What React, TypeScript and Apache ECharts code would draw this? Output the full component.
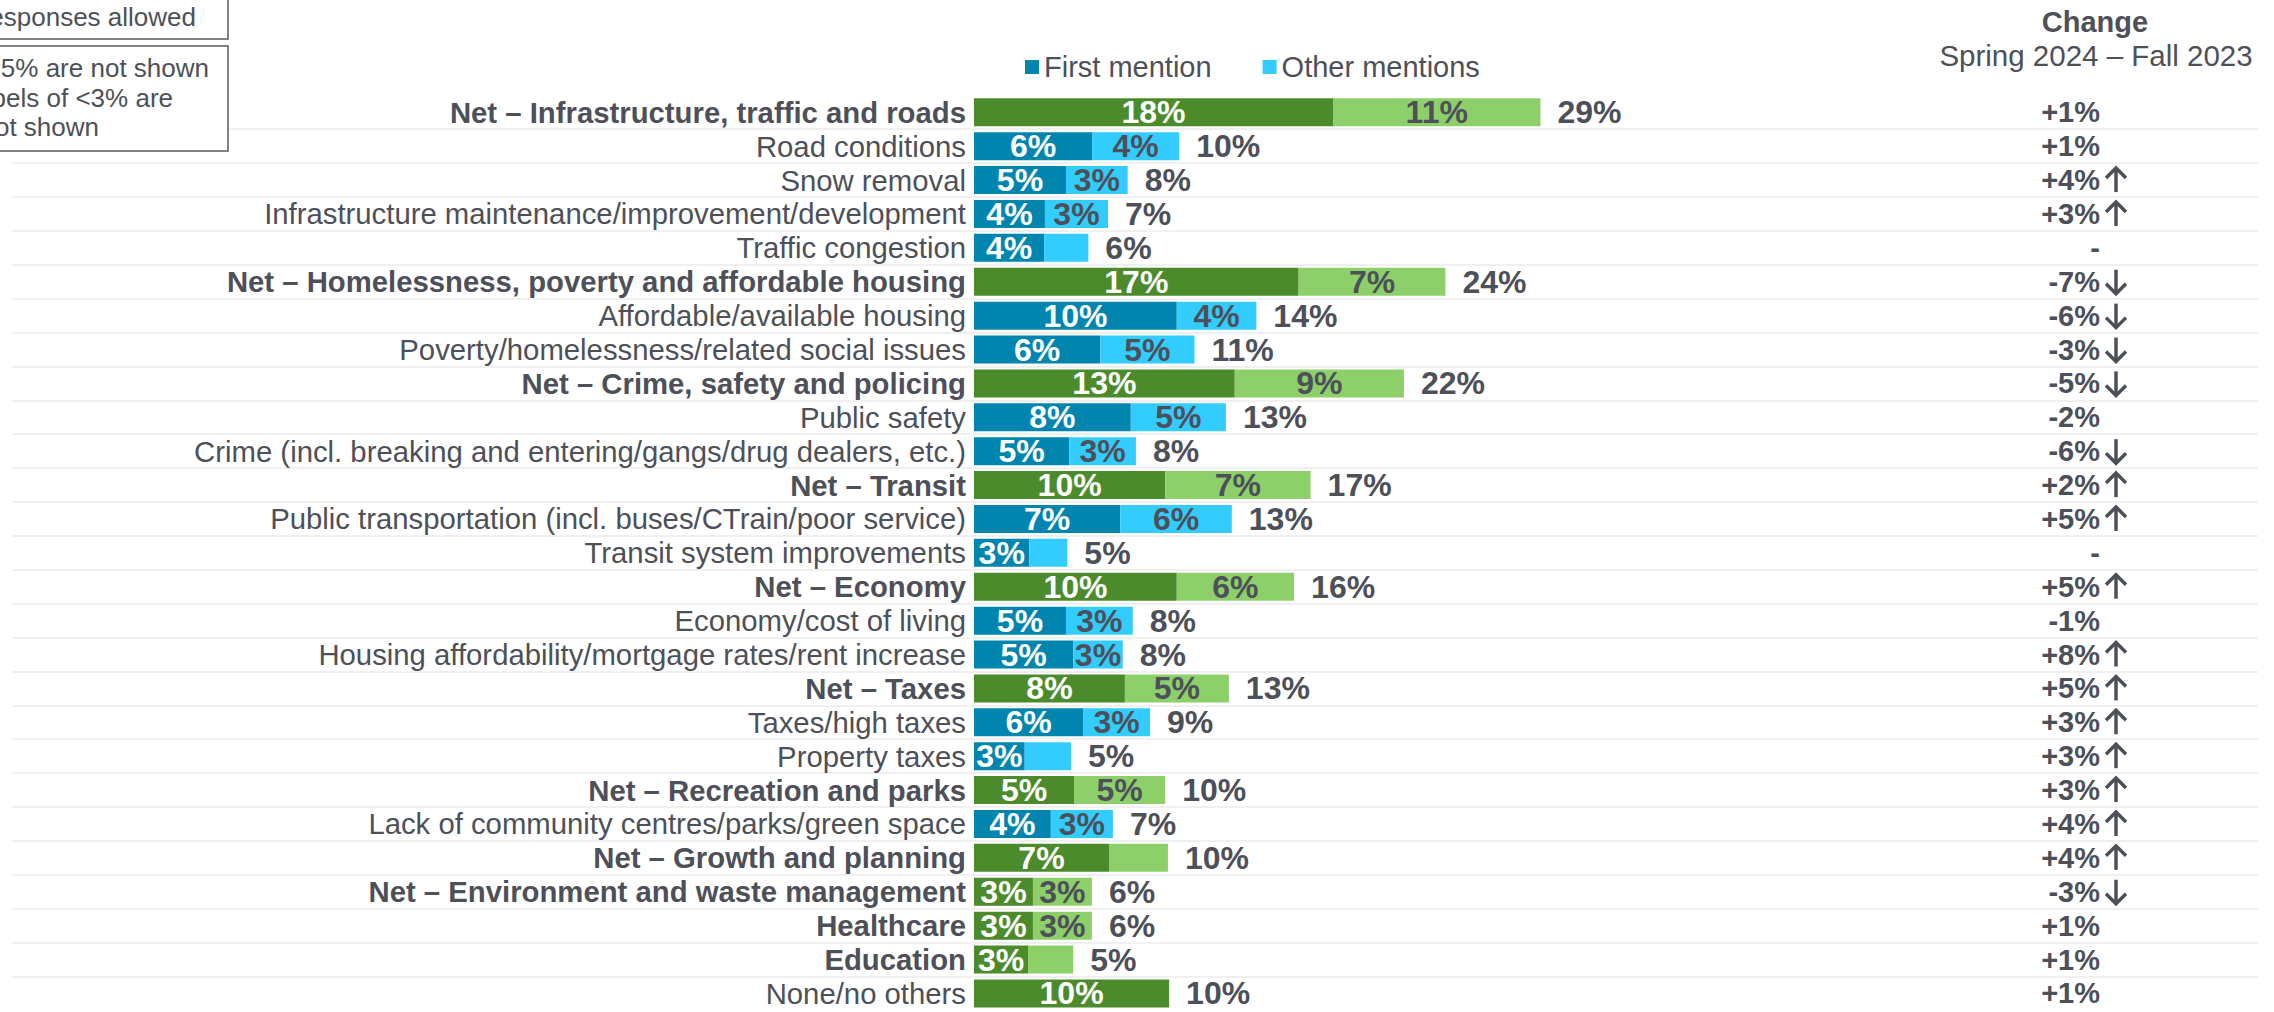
import React, { useEffect, useRef } from "react";
import * as echarts from "echarts";

// ---------- data ----------
const categories: string[] = [
  "Net – Infrastructure, traffic and roads",
  "Road conditions",
  "Snow removal",
  "Infrastructure maintenance/improvement/development",
  "Traffic congestion",
  "Net – Homelessness, poverty and affordable housing",
  "Affordable/available housing",
  "Poverty/homelessness/related social issues",
  "Net – Crime, safety and policing",
  "Public safety",
  "Crime (incl. breaking and entering/gangs/drug dealers, etc.)",
  "Net – Transit",
  "Public transportation (incl. buses/CTrain/poor service)",
  "Transit system improvements",
  "Net – Economy",
  "Economy/cost of living",
  "Housing affordability/mortgage rates/rent increase",
  "Net – Taxes",
  "Taxes/high taxes",
  "Property taxes",
  "Net – Recreation and parks",
  "Lack of community centres/parks/green space",
  "Net – Growth and planning",
  "Net – Environment and waste management",
  "Healthcare",
  "Education",
  "None/no others",
];

// net = summary row, item = mention inside a net, single = stand-alone category, none = no issue
const rowKinds: string[] = [
  "net", "item", "item", "item", "item",
  "net", "item", "item",
  "net", "item", "item",
  "net", "item", "item",
  "net", "item", "item",
  "net", "item", "item",
  "net", "item",
  "net", "net", "single", "single", "none",
];

const firstMention: number[] = [
  18.27, 6.01, 4.68, 3.61, 3.57,
  16.52, 10.32, 6.43,
  13.27, 7.98, 4.84,
  9.73, 7.44, 2.82,
  10.32, 4.68, 5.05,
  7.68, 5.55, 2.58,
  5.09, 3.91,
  6.87, 3.0, 3.0, 2.75, 9.93,
];

const otherMentions: number[] = [
  10.56, 4.43, 3.14, 3.21, 2.25,
  7.47, 4.05, 4.79,
  8.61, 4.84, 3.4,
  7.4, 5.68, 1.93,
  5.97, 3.4, 2.52,
  5.29, 3.41, 2.36,
  4.64, 3.16,
  3.0, 3.0, 3.0, 2.3, 0,
];

const unlabelledOther: string[] = ["Net – Growth and planning"];

const changes: string[] = [
  "+1%", "+1%", "+4%", "+3%", "-",
  "-7%", "-6%", "-3%",
  "-5%", "-2%", "-6%",
  "+2%", "+5%", "-",
  "+5%", "-1%", "+8%",
  "+5%", "+3%", "+3%",
  "+3%", "+4%",
  "+4%", "-3%", "+1%", "+1%", "+1%",
];

// significant change direction: 1 = up, -1 = down, 0 = none
const trends: number[] = [
  0, 0, 1, 1, 0,
  -1, -1, -1,
  -1, 0, -1,
  1, 1, 0,
  1, 0, 1,
  1, 1, 1,
  1, 1,
  1, -1, 0, 0, 0,
];

const legendNames: string[] = ["First mention", "Other mentions"];
const changeTitle = "Change";
const changeSubtitle = "Spring 2024 – Fall 2023";
const noteBox1: string[] = ["esponses allowed"];
const noteBox2: string[] = ["5% are not shown", "bels of <3% are", "ot shown"];

// ---------- styling / layout ----------
const FONT = "'Liberation Sans', Arial, Helvetica, sans-serif";
const TEXT = "#4d5059";
const DARK_BLUE = "#0086ae";
const LIGHT_BLUE = "#33ccff";
const DARK_GREEN = "#4c8b2b";
const LIGHT_GREEN = "#8dd06a";
const X0 = 974; // pixel of value 0
const PX = 19.65; // pixels per percent
const GL = 12;
const GR = 2258;
const CHANGE_RIGHT = 2100;
const ARROW_X = 2116;

export default function App() {
  const ref = useRef<HTMLDivElement>(null);

  useEffect(() => {
    if (!ref.current) return;
    const chart = echarts.init(ref.current, null, { renderer: "svg" });

    const isGreen = (i: number) => rowKinds[i] !== "item";
    const isBold = (i: number) => rowKinds[i] === "net" || rowKinds[i] === "single";
    const totals = firstMention.map((v, i) => v + otherMentions[i]);

    const valueLabel = {
      fontSize: 32,
      fontWeight: "bold",
      fontFamily: FONT,
    };

    const option: any = {
      animation: false,
      backgroundColor: "#ffffff",
      textStyle: { fontFamily: FONT },
      legend: {
        data: legendNames,
        left: 1020,
        top: 47,
        icon: "rect",
        itemWidth: 14,
        itemHeight: 14,
        itemGap: 51,
        selectedMode: false,
        textStyle: { fontSize: 29, color: TEXT, fontFamily: FONT, lineHeight: 30 },
      },
      grid: {
        left: GL,
        width: GR - GL,
        top: 95.35,
        height: 915,
        containLabel: false,
        outerBoundsMode: "none",
      },
      xAxis: {
        type: "value",
        min: -(X0 - GL) / PX,
        max: (GR - X0) / PX,
        axisLine: { show: false },
        axisTick: { show: false },
        axisLabel: { show: false },
        splitLine: { show: false },
      },
      yAxis: [
        {
          type: "category",
          data: categories,
          inverse: true,
          position: "left",
          offset: -(X0 - GL),
          axisLine: { show: false, onZero: false },
          axisTick: { show: false },
          axisLabel: {
            interval: 0,
            margin: 8,
            formatter: (v: string, i: number) => (isBold(i) ? `{b|${v}}` : `{n|${v}}`),
            rich: {
              b: { fontSize: 29.3, fontWeight: "bold", color: TEXT, fontFamily: FONT },
              n: { fontSize: 29.3, fontWeight: "normal", color: TEXT, fontFamily: FONT },
            },
          },
          splitLine: {
            show: true,
            interval: 0,
            showMinLine: false,
            showMaxLine: false,
            lineStyle: { color: "#f0f0f0", width: 2 },
          },
        },
        {
          type: "category",
          data: categories,
          inverse: true,
          position: "right",
          axisLine: { show: false, onZero: false },
          axisTick: { show: false },
          splitLine: { show: false },
          axisLabel: {
            inside: true,
            interval: 0,
            margin: GR - CHANGE_RIGHT,
            fontSize: 29,
            fontWeight: "bold",
            color: TEXT,
            fontFamily: FONT,
            formatter: (_v: string, i: number) => changes[i],
          },
        },
      ],
      series: [
        {
          name: legendNames[0],
          type: "bar",
          stack: "mentions",
          barWidth: 28,
          barGap: "-100%",
          itemStyle: { color: DARK_BLUE },
          data: firstMention.map((v, i) => ({
            value: v,
            itemStyle: { color: isGreen(i) ? DARK_GREEN : DARK_BLUE },
          })),
          label: {
            show: true,
            position: "inside",
            color: "#ffffff",
            ...valueLabel,
            formatter: (p: any) => (Math.round(p.value) >= 3 ? `${Math.round(p.value)}%` : ""),
          },
        },
        {
          name: legendNames[1],
          type: "bar",
          stack: "mentions",
          barWidth: 28,
          barGap: "-100%",
          itemStyle: { color: LIGHT_BLUE },
          data: otherMentions.map((v, i) => ({
            value: v,
            itemStyle: { color: isGreen(i) ? LIGHT_GREEN : LIGHT_BLUE },
          })),
          label: {
            show: true,
            position: "inside",
            color: TEXT,
            ...valueLabel,
            formatter: (p: any) =>
              Math.round(p.value) >= 3 && !unlabelledOther.includes(categories[p.dataIndex])
                ? `${Math.round(p.value)}%`
                : "",
          },
        },
        {
          name: "Total",
          type: "bar",
          barWidth: 28,
          barGap: "-100%",
          silent: true,
          itemStyle: { color: "rgba(0,0,0,0)" },
          data: totals,
          label: {
            show: true,
            position: "right",
            distance: 17,
            color: TEXT,
            ...valueLabel,
            formatter: (p: any) => `${Math.round(p.value)}%`,
          },
        },
        {
          name: "Trend",
          type: "custom",
          silent: true,
          encode: { x: 0, y: 1 },
          data: trends.map((t, i) => [0, i, t]),
          renderItem: (_params: any, api: any) => {
            const dir = api.value(2);
            if (!dir) return { type: "group", children: [] };
            const y = api.coord([0, api.value(1)])[1];
            const x = ARROW_X;
            const h = 12;
            const w = 10;
            const tip = y - dir * h;
            const tail = y + dir * h;
            const headBase = tip + dir * w;
            return {
              type: "group",
              children: [
                {
                  type: "line",
                  shape: { x1: x, y1: tail, x2: x, y2: tip + dir * 1.5 },
                  style: { stroke: TEXT, lineWidth: 3.5 },
                },
                {
                  type: "polyline",
                  shape: { points: [[x - w, headBase], [x, tip], [x + w, headBase]] },
                  style: { stroke: TEXT, lineWidth: 3.5, fill: "none", lineJoin: "miter" },
                },
              ],
            };
          },
        },
      ],
      graphic: [
        {
          type: "rect",
          z: 100,
          shape: { x: -5, y: -10, width: 233, height: 49 },
          style: { fill: "#ffffff", stroke: "#595959", lineWidth: 1.5 },
        },
        {
          type: "rect",
          z: 100,
          shape: { x: -5, y: 46, width: 233, height: 105 },
          style: { fill: "#ffffff", stroke: "#595959", lineWidth: 1.5 },
        },
        {
          type: "text",
          z: 101,
          x: 196,
          y: 17,
          style: { text: noteBox1[0], fontSize: 26, fill: TEXT, fontFamily: FONT, align: "right", verticalAlign: "middle" },
        },
        {
          type: "text",
          z: 101,
          x: 209,
          y: 68,
          style: { text: noteBox2[0], fontSize: 26, fill: TEXT, fontFamily: FONT, align: "right", verticalAlign: "middle" },
        },
        {
          type: "text",
          z: 101,
          x: 173,
          y: 98,
          style: { text: noteBox2[1], fontSize: 26, fill: TEXT, fontFamily: FONT, align: "right", verticalAlign: "middle" },
        },
        {
          type: "text",
          z: 101,
          x: 99,
          y: 127,
          style: { text: noteBox2[2], fontSize: 26, fill: TEXT, fontFamily: FONT, align: "right", verticalAlign: "middle" },
        },
        {
          type: "text",
          x: 2095,
          y: 22,
          style: { text: changeTitle, fontSize: 29, fontWeight: "bold", fill: TEXT, fontFamily: FONT, align: "center", verticalAlign: "middle" },
        },
        {
          type: "text",
          x: 2096,
          y: 55,
          style: { text: changeSubtitle, fontSize: 29.5, fill: TEXT, fontFamily: FONT, align: "center", verticalAlign: "middle" },
        },
      ],
    };

    chart.setOption(option);
    return () => chart.dispose();
  }, []);

  return (
    <div
      ref={ref}
      style={{ position: "fixed", left: 0, top: 0, width: 2274, height: 1012, background: "#ffffff" }}
    />
  );
}
